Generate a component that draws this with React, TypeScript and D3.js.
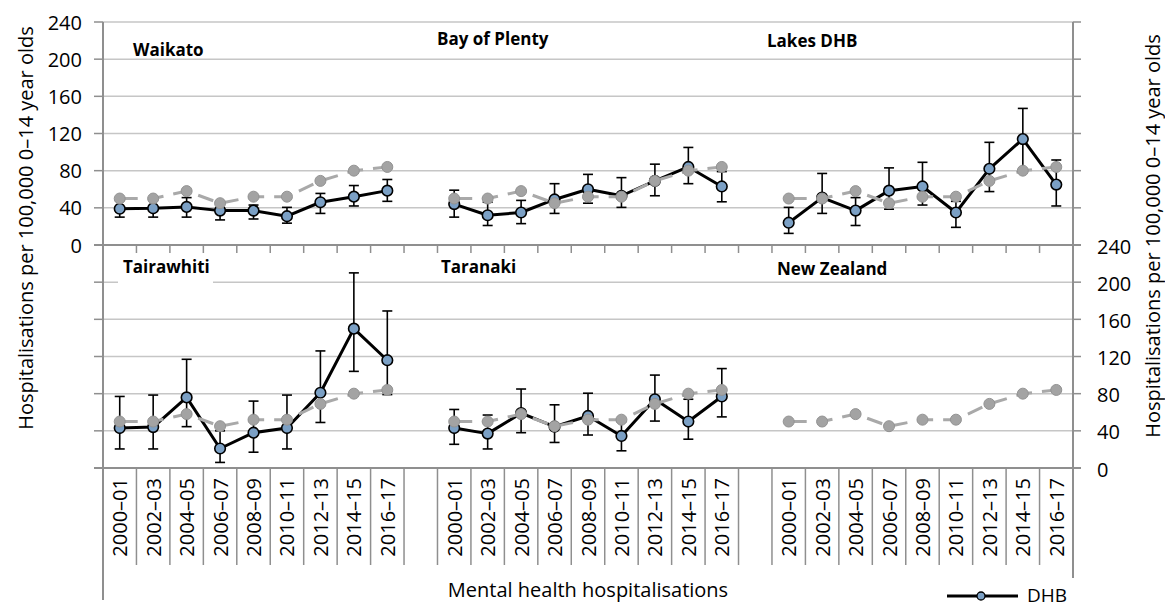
import React from "react";
import * as d3 from "d3";

// ---------- data ----------
const periods = ["2000–01", "2002–03", "2004–05", "2006–07", "2008–09", "2010–11", "2012–13", "2014–15", "2016–17"];
const yTicks = [0, 40, 80, 120, 160, 200, 240];

const nzRate = [50, 50, 58, 45, 52, 52, 69, 80, 84];

const waikato = [39, 39.5, 41, 37, 37, 31, 46, 52, 58.5];
const waikatoLo = [30, 30, 30, 27, 28, 23.5, 34, 42, 47];
const waikatoHi = [48, 48, 51, 45, 43, 40.5, 55.5, 64, 70.5];

const bayOfPlenty = [44, 32, 35, 49, 60, 53, 69, 84, 63];
const bayOfPlentyLo = [30, 21, 23, 34, 45, 40.5, 53, 66, 46.5];
const bayOfPlentyHi = [59, 46, 48, 66, 76, 72.5, 87, 105, 79];

const lakes = [24, 51, 37, 58.5, 63, 35, 82, 114, 65];
const lakesLo = [12.5, 34, 21, 38.5, 43, 19, 57.5, 81, 42];
const lakesHi = [40.5, 77, 51, 83, 89, 47, 110.5, 147, 91.5];

const tairawhiti = [43, 44, 76, 21, 38, 43, 81, 150, 116];
const tairawhitiLo = [20.5, 20.5, 44.5, 6, 17, 20.5, 49, 104, 79];
const tairawhitiHi = [77, 78.5, 117, 40, 72, 78.5, 126, 210, 169];

const taranaki = [43, 37, 59, 44.5, 56, 34.5, 74, 50, 77];
const taranakiLo = [25.5, 20.5, 38, 27.5, 35.5, 18.5, 50.5, 31, 55];
const taranakiHi = [63, 57, 85, 68, 80.5, 50, 100, 74, 107];

const panelNames = ["Waikato", "Bay of Plenty", "Lakes DHB", "Tairawhiti", "Taranaki", "New Zealand"];
const panelSeries = [
  [waikato, waikatoLo, waikatoHi],
  [bayOfPlenty, bayOfPlentyLo, bayOfPlentyHi],
  [lakes, lakesLo, lakesHi],
  [tairawhiti, tairawhitiLo, tairawhitiHi],
  [taranaki, taranakiLo, taranakiHi],
  null,
];

const axisTitle = "Hospitalisations per 100,000 0–14 year olds";
const groupTitle = "Mental health hospitalisations";
const legendLabel = "DHB";

// ---------- layout ----------
const W = 1165;
const H = 607;
const L = 103;
const R = 1073;
const FONT = "'Open Sans', 'Noto Sans', sans-serif";
const titlePos = [
  [133, 56], [437, 45], [767, 47],
  [123, 273], [441, 273], [777, 275],
];

const AXIS = "#8f8f8f";
const GRID = "#c6c6c6";
const BLUE = "#7ba0c5";
const NZFILL = "#a3a3a3";
const NZLINE = "#a9a9a9";

export default function App() {
  const nCat = 29;
  const x = d3.scaleBand<number>().domain(d3.range(nCat)).range([L, R]);
  const bw = x.bandwidth();
  const cx = (g: number, i: number) => (x(g * 10 + i) as number) + bw / 2;
  const yTop = d3.scaleLinear().domain([0, 240]).range([245, 22]);
  const yBot = d3.scaleLinear().domain([0, 240]).range([468, 245]);
  const rowScale = [yTop, yBot];

  const boundaries = d3.range(1, nCat).map((k) => (x(k) as number));

  const panels = panelNames.map((name, p) => ({
    name,
    g: p % 3,
    row: Math.floor(p / 3),
    series: panelSeries[p],
  }));

  return (
    <svg width={W} height={H} style={{ position: "absolute", left: 0, top: 0, background: "#fff" }} fontFamily={FONT}>
      <rect x={0} y={0} width={W} height={H} fill="#fff" />
      {/* gridlines */}
      {rowScale.map((y, r) =>
        yTicks.filter((t) => t > 0).map((t) => (
          <line key={`g${r}-${t}`} x1={L} x2={R} y1={y(t)} y2={y(t)} stroke={GRID} strokeWidth={1.5} />
        ))
      )}
      {/* Tairawhiti label background */}
      <rect x={118} y={258} width={95} height={31} fill="#fff" />

      {/* axes */}
      <line x1={L} x2={L} y1={yTop(240)} y2={600} stroke={AXIS} strokeWidth={2} />
      <line x1={R} x2={R} y1={yTop(240)} y2={578} stroke={AXIS} strokeWidth={2} />
      {rowScale.map((y, r) =>
        yTicks.map((t) => (
          <g key={`t${r}-${t}`}>
            <line x1={L - 9} x2={L} y1={y(t)} y2={y(t)} stroke={AXIS} strokeWidth={1.5} />
            <line x1={R} x2={R + 8} y1={y(t)} y2={y(t)} stroke={AXIS} strokeWidth={1.5} />
          </g>
        ))
      )}
      <line x1={L - 9} x2={R + 8} y1={yTop(0)} y2={yTop(0)} stroke={AXIS} strokeWidth={2} />
      <line x1={L - 9} x2={R + 8} y1={yBot(0)} y2={yBot(0)} stroke={AXIS} strokeWidth={2} />
      {boundaries.map((bx, k) => (
        <g key={`b${k}`}>
          <line x1={bx} x2={bx} y1={yTop(0)} y2={yTop(0) + 8} stroke={AXIS} strokeWidth={1.5} />
          <line x1={bx} x2={bx} y1={yBot(0)} y2={565} stroke={AXIS} strokeWidth={1.5} />
        </g>
      ))}

      {/* tick labels */}
      {yTicks.map((t) => (
        <text key={`lt${t}`} x={82} y={yTop(t)} textAnchor="end" dominantBaseline="central" fontSize={20} fill="#000">
          {t}
        </text>
      ))}
      {yTicks.map((t) => (
        <text key={`rt${t}`} x={1097} y={yBot(t) + 1} textAnchor="start" dominantBaseline="central" fontSize={20} fill="#000">
          {t}
        </text>
      ))}
      {[0, 1, 2].map((g) =>
        periods.map((p, i) => (
          <text
            key={`c${g}-${i}`}
            transform={`translate(${cx(g, i)},478) rotate(-90)`}
            textAnchor="end"
            dominantBaseline="central"
            fontSize={20}
            fill="#000"
          >
            {p}
          </text>
        ))
      )}
      <text x={(L + R) / 2} y={597} textAnchor="middle" fontSize={20} fill="#000">
        {groupTitle}
      </text>
      <text transform={`translate(25,228) rotate(-90)`} textAnchor="middle" dominantBaseline="central" fontSize={20} fill="#000">
        {axisTitle}
      </text>
      <text transform={`translate(1152,236) rotate(-90)`} textAnchor="middle" dominantBaseline="central" fontSize={20} fill="#000">
        {axisTitle}
      </text>

      {/* series */}
      {panels.map((pn, p) => {
        const y = rowScale[pn.row];
        const line = d3
          .line<number>()
          .x((_, i) => cx(pn.g, i))
          .y((d) => y(d));
        return (
          <g key={`p${p}`}>
            {pn.series && (
              <g>
                {pn.series[0].map((v, i) => (
                  <g key={`e${i}`} stroke="#000" strokeWidth={1.6}>
                    <line x1={cx(pn.g, i)} x2={cx(pn.g, i)} y1={y(pn.series![1][i])} y2={y(pn.series![2][i])} />
                    <line x1={cx(pn.g, i) - 5} x2={cx(pn.g, i) + 5} y1={y(pn.series![1][i])} y2={y(pn.series![1][i])} />
                    <line x1={cx(pn.g, i) - 5} x2={cx(pn.g, i) + 5} y1={y(pn.series![2][i])} y2={y(pn.series![2][i])} />
                  </g>
                ))}
                <path d={line(pn.series[0]) || ""} fill="none" stroke="#000" strokeWidth={3} strokeLinejoin="round" />
                {pn.series[0].map((v, i) => (
                  <circle key={`m${i}`} cx={cx(pn.g, i)} cy={y(v)} r={5.3} fill={BLUE} stroke="#000" strokeWidth={1.6} />
                ))}
              </g>
            )}
            <path
              d={line(nzRate) || ""}
              fill="none"
              stroke={NZLINE}
              strokeWidth={3}
              strokeDasharray="16 10"
              strokeDashoffset={24}
            />
            {nzRate.map((v, i) => (
              <circle key={`n${i}`} cx={cx(pn.g, i)} cy={y(v)} r={5.5} fill={NZFILL} stroke="#939393" strokeWidth={1} />
            ))}
            <text x={titlePos[p][0]} y={titlePos[p][1]} fontSize={17} fontWeight="bold" fill="#000">
              {pn.name}
            </text>
          </g>
        );
      })}

      {/* legend */}
      <line x1={947} x2={1018} y1={596} y2={596} stroke="#000" strokeWidth={3} />
      <circle cx={981} cy={596} r={4} fill={BLUE} stroke="#000" strokeWidth={1.3} />
      <text x={1027} y={602} fontSize={19} fill="#000">
        {legendLabel}
      </text>
    </svg>
  );
}
